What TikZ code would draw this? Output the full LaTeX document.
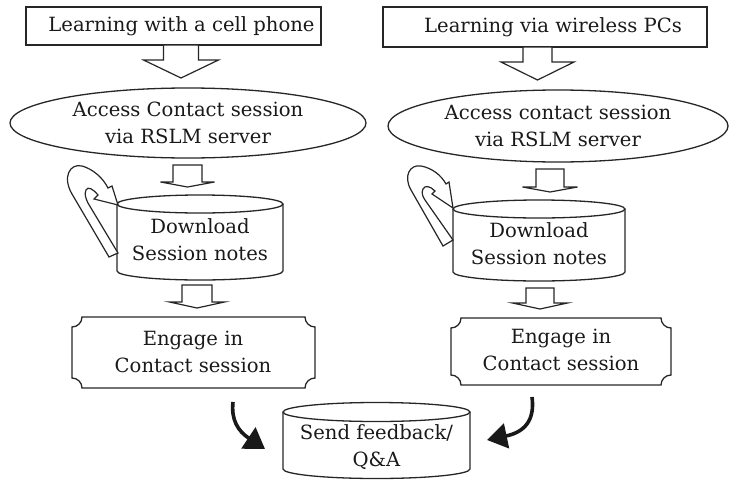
\documentclass[tikz,border=0pt]{standalone}
\usepackage{fontspec}
\setmainfont{DejaVu Serif}
\usetikzlibrary{arrows.meta,shapes.geometric}
% block arrow: cx, ytop, shaft half, head half, ybase, ytip (y in px, downwards)
\newcommand{\blockarr}[6]{%
  \draw[blk] (#1-#3,-#2) -- (#1-#3,-#5) -- (#1-#4,-#5) -- (#1,-#6) -- (#1+#4,-#5) -- (#1+#3,-#5) -- (#1+#3,-#2) -- cycle;}
% drum: cx, ytop, ybot, rx, ry
\newcommand{\drumshape}[5]{%
  \draw[outl] (#1-#4,-#2) -- (#1-#4,-#3) arc[start angle=180,end angle=360,x radius=#4,y radius=#5] -- (#1+#4,-#2);
  \draw[outl] (#1,-#2) ellipse[x radius=#4, y radius=#5];}
% plaque: xl, yt, xr, yb, r
\newcommand{\plaqueshape}[5]{%
  \draw[outl] (#1+#5,-#2) -- (#3-#5,-#2) arc[start angle=180,end angle=270,radius=#5]
    -- (#3,-#4+#5) arc[start angle=90,end angle=180,radius=#5]
    -- (#1+#5,-#4) arc[start angle=0,end angle=90,radius=#5]
    -- (#1,-#2-#5) arc[start angle=270,end angle=360,radius=#5] -- cycle;}
\begin{document}
\begin{tikzpicture}[x=1pt,y=1pt,
  lbl/.style={font=\fontsize{19.6}{27}\selectfont, align=center, inner sep=0pt, text=black!90},
  outl/.style={draw=black!85, line width=1.3pt},
  blk/.style={draw=black!85, fill=white, line width=1.2pt, line join=miter},
  plainbox/.style={outl, rectangle, inner sep=0pt},
  oval/.style={lbl, outl, ellipse},
  curl/.style={draw=black!85, fill=white, line width=1.2pt, line join=miter},
  bigarrow/.style={draw=black!90, line width=3.6pt, -{Triangle[length=20pt,width=25pt]}}
]
\useasboundingbox (0,0) rectangle (730,-479);

% top boxes
\node[plainbox, minimum width=295pt, minimum height=38pt] (boxA) at (173.5,-26) {};
\node[lbl] (boxAtxt) at (181.5,-26) {Learning with a cell phone};
\node[plainbox, minimum width=324pt, minimum height=40pt] (boxB) at (545,-27) {};
\node[lbl] (boxBtxt) at (553,-27) {Learning via wireless PCs};

% big block arrows
\blockarr{181}{45}{17.5}{37.5}{60}{78}
\blockarr{537.5}{47}{14.5}{36.5}{62}{80}

% ellipses
\node[oval, minimum width=356pt, minimum height=70pt] (ellA) at (188,-123) {Access Contact session\\via RSLM server};
\node[oval, minimum width=340pt, minimum height=72pt] (ellB) at (558,-126) {Access contact session\\via RSLM server};

% small block arrows
\blockarr{187.5}{165}{14.5}{27}{182}{187}
\blockarr{550}{169}{14}{27.5}{187}{192}
\blockarr{197}{285}{15}{27.5}{302}{308}
\blockarr{540}{288}{14}{27.5}{303}{309}

% download cylinders
\drumshape{200}{204}{271}{83}{9}
\node[lbl] (cylA) at (200,-240) {Download\\Session notes};
\drumshape{539}{209}{272}{86}{9}
\node[lbl] (cylB) at (539,-243.5) {Download\\Session notes};

% curl arrows
\draw[curl] (109,-257) -- (72,-194) .. controls (62,-177) and (70,-163) .. (82,-166)
  .. controls (93,-169) and (103,-178) .. (108,-188) -- (112,-186) -- (118,-205) -- (94,-199) -- (98,-195)
  .. controls (93,-189) and (88,-186) .. (86,-190) .. controls (84,-194) and (86,-199) .. (88,-203) -- (118,-253) -- cycle;
\draw[curl] (443,-246) -- (411,-190) .. controls (403,-176) and (410,-164) .. (421,-166)
  .. controls (432,-168) and (441,-175) .. (446,-184) -- (449,-182) -- (453,-208) -- (432,-194) -- (435,-191)
  .. controls (430,-186) and (425,-185) .. (423,-189) .. controls (421,-193) and (423,-197) .. (425,-200) -- (453,-240) -- cycle;

% engage plaques
\plaqueshape{72}{317}{315}{388}{10}
\node[lbl] (engA) at (193,-352) {Engage in\\Contact session};
\plaqueshape{451}{318}{671}{385}{10}
\node[lbl] (engB) at (561,-350) {Engage in\\Contact session};

% feedback cylinder
\drumshape{376.5}{412}{469}{93.5}{9.5}
\node[lbl] (fb) at (376.5,-447.5) {Send feedback/\\Q\&A};

% thick curved arrows
\coordinate (la0) at (233,-402);
\coordinate (la1) at (265,-449);
\coordinate (ra0) at (532,-397);
\coordinate (ra1) at (487,-440);
\draw[bigarrow] (la0) .. controls (231,-420) and (238,-431) .. (la1);
\draw[bigarrow] (ra0) .. controls (535,-420) and (525,-432) .. (ra1);
\end{tikzpicture}
\end{document}
